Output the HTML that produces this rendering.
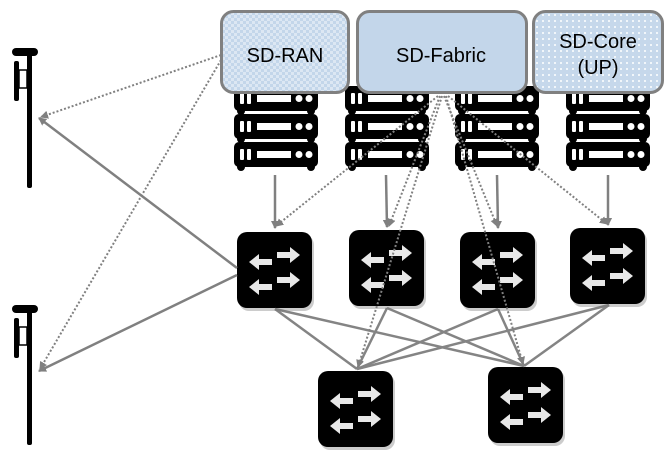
<!DOCTYPE html>
<html><head><meta charset="utf-8"><style>
body{margin:0;background:#fff;}
svg{display:block;}
text{font-family:"Liberation Sans",sans-serif;}
</style></head><body>
<svg width="669" height="458" viewBox="0 0 669 458" xmlns="http://www.w3.org/2000/svg">
<defs>
<pattern id="chk" width="6" height="6" patternUnits="userSpaceOnUse">
<rect width="6" height="6" fill="#dce7f3"/><rect width="3" height="3" fill="#c3d6ea"/><rect x="3" y="3" width="3" height="3" fill="#c3d6ea"/>
</pattern>
<pattern id="dots" width="6" height="6" patternUnits="userSpaceOnUse">
<rect width="6" height="6" fill="#c6d8eb"/><circle cx="3" cy="3" r="1" fill="#fff"/>
</pattern>
<marker id="ah" markerWidth="8" markerHeight="8" refX="7" refY="4" orient="auto" markerUnits="userSpaceOnUse">
<path d="M0,0 L8,4 L0,8 z" fill="#808080" transform="scale(1.5) translate(-2.6,-1.35)"/>
</marker>
<g id="srvu">
<rect x="0" y="0" width="84" height="25" rx="5" fill="#000"/>
<rect x="6" y="7" width="4" height="11" rx="1" fill="#fff"/><rect x="13" y="7" width="4" height="11" rx="1" fill="#fff"/>
<rect x="23" y="9" width="34" height="7" fill="#fff"/>
<circle cx="65" cy="12.5" r="3.5" fill="#fff"/><circle cx="75" cy="12.5" r="3.5" fill="#fff"/>
<circle cx="7" cy="25" r="4" fill="#000"/><circle cx="77" cy="25" r="4" fill="#000"/>
</g>
<g id="srv">
<use href="#srvu" y="0"/><use href="#srvu" y="28"/><use href="#srvu" y="56"/>
</g>
<g id="sw">
<rect x="2" y="3" width="75" height="76" rx="10" fill="#999" opacity="0.5"/>
<rect x="0" y="0" width="75" height="76" rx="10" fill="#000"/>
<g fill="#e8e8e8">
<path d="M12,30 L22,22 L22,27 L35,27 L35,33 L22,33 L22,38 z"/>
<path d="M12,55 L22,47 L22,52 L35,52 L35,58 L22,58 L22,63 z"/>
<path d="M63,23 L53,15 L53,20 L40,20 L40,26 L53,26 L53,31 z"/>
<path d="M63,48 L53,40 L53,45 L40,45 L40,51 L53,51 L53,56 z"/>
</g>
</g>
<g id="ant">
<rect x="27" y="4" width="5" height="136" rx="2" fill="#000"/>
<rect x="12" y="0" width="26" height="8" rx="4" fill="#000"/>
<rect x="14" y="13" width="5" height="40" rx="2" fill="#000"/>
<rect x="19" y="22" width="8" height="18" fill="none" stroke="#000" stroke-width="1.5"/>
</g>
</defs>

<use href="#ant" x="0" y="48"/>
<use href="#ant" x="0" y="305"/>

<use href="#srv" x="234" y="86"/>
<use href="#srv" x="345" y="86"/>
<use href="#srv" x="455" y="86"/>
<use href="#srv" x="566" y="86"/>

<rect x="221.5" y="11.5" width="127" height="81" rx="12" fill="url(#chk)" stroke="#808080" stroke-width="3"/>
<rect x="357.5" y="11.5" width="169" height="81" rx="12" fill="#c3d6ea" stroke="#808080" stroke-width="3"/>
<rect x="533.5" y="11.5" width="129" height="81" rx="12" fill="url(#dots)" stroke="#808080" stroke-width="3"/>
<text x="285" y="62" font-size="20" text-anchor="middle">SD-RAN</text>
<text x="441" y="62" font-size="20" text-anchor="middle">SD-Fabric</text>
<text x="598" y="48" font-size="20" text-anchor="middle">SD-Core</text>
<text x="598" y="74" font-size="20" text-anchor="middle">(UP)</text>

<g stroke="#808080" stroke-width="2.5" fill="none" marker-end="url(#ah)">
<line x1="275" y1="175" x2="275" y2="228"/>
<line x1="386" y1="175" x2="387" y2="227"/>
<line x1="497" y1="175" x2="498" y2="228"/>
<line x1="608" y1="175" x2="608" y2="225"/>
</g>

<use href="#sw" x="237" y="232"/>
<use href="#sw" x="349" y="230"/>
<use href="#sw" x="460" y="232"/>
<use href="#sw" x="570" y="228"/>
<use href="#sw" x="318" y="371"/>
<use href="#sw" x="488" y="367"/>

<g stroke="#777" stroke-width="2.5" fill="none" opacity="0.9">
<line x1="275" y1="309" x2="357" y2="369"/>
<line x1="275" y1="309" x2="524" y2="366"/>
<line x1="387" y1="308" x2="357" y2="369"/>
<line x1="387" y1="308" x2="524" y2="366"/>
<line x1="498" y1="309" x2="357" y2="369"/>
<line x1="498" y1="309" x2="524" y2="366"/>
<line x1="609" y1="305" x2="357" y2="369"/>
<line x1="609" y1="305" x2="524" y2="366"/>
</g>

<g stroke="#808080" stroke-width="2.5" fill="none" marker-end="url(#ah)">
<line x1="237" y1="268" x2="39" y2="118"/>
<line x1="237" y1="275" x2="39" y2="371"/>
</g>

<g stroke="#808080" stroke-width="2" stroke-dasharray="2,2" fill="none" marker-end="url(#ah)">
<line x1="221" y1="55" x2="41" y2="117"/>
<line x1="221" y1="60" x2="40" y2="369"/>
<line x1="438" y1="96" x2="276" y2="226"/>
<line x1="440" y1="96" x2="389" y2="226"/>
<line x1="442" y1="96" x2="358" y2="367"/>
<line x1="444" y1="96" x2="497" y2="226"/>
<line x1="446" y1="96" x2="523" y2="364"/>
<line x1="448" y1="96" x2="607" y2="224"/>
</g>
</svg>
</body></html>
